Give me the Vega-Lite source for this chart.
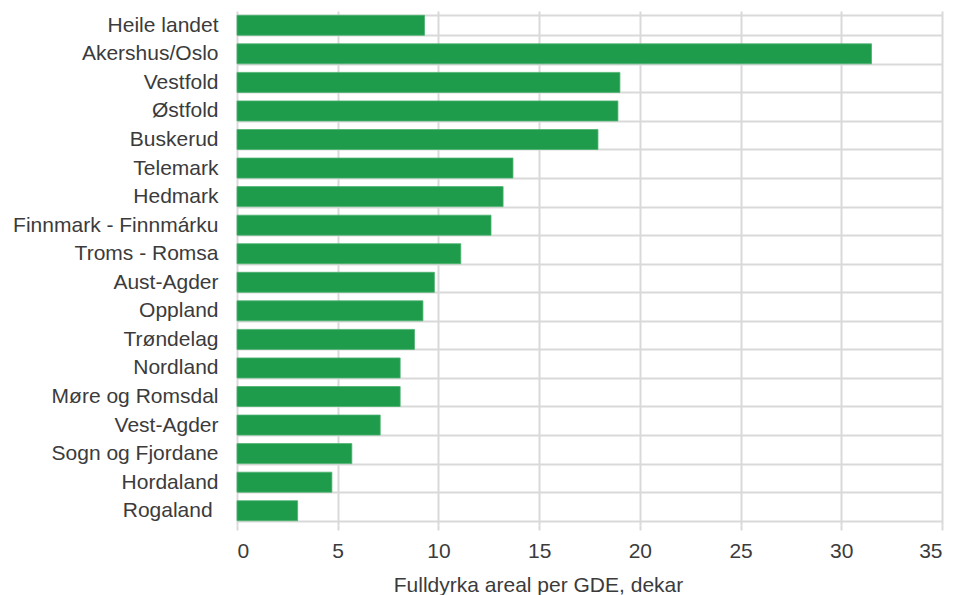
{
  "$schema": "https://vega.github.io/schema/vega-lite/v6.json",
  "width": 705,
  "height": 514,
  "autosize": {"type": "none"},
  "padding": {"left": 237, "top": 11, "right": 15, "bottom": 70},
  "background": "white",
  "config": {
    "view": {"stroke": null},
    "font": "Liberation Sans"
  },
  "data": {
    "values": [
      {"fylke": "Heile landet", "areal": 9.31},
      {"fylke": "Akershus/Oslo", "areal": 31.5},
      {"fylke": "Vestfold", "areal": 19.01},
      {"fylke": "Østfold", "areal": 18.91},
      {"fylke": "Buskerud", "areal": 17.92},
      {"fylke": "Telemark", "areal": 13.7},
      {"fylke": "Hedmark", "areal": 13.21},
      {"fylke": "Finnmark - Finnmárku", "areal": 12.61},
      {"fylke": "Troms - Romsa", "areal": 11.11},
      {"fylke": "Aust-Agder", "areal": 9.8},
      {"fylke": "Oppland", "areal": 9.23},
      {"fylke": "Trøndelag", "areal": 8.81},
      {"fylke": "Nordland", "areal": 8.1},
      {"fylke": "Møre og Romsdal", "areal": 8.1},
      {"fylke": "Vest-Agder", "areal": 7.11},
      {"fylke": "Sogn og Fjordane", "areal": 5.7},
      {"fylke": "Hordaland", "areal": 4.71},
      {"fylke": "Rogaland\u00a0\u200b", "areal": 3.01}
    ]
  },
  "mark": {"type": "bar", "color": "#1e9c4b", "stroke": "#4cb170", "strokeWidth": 0.8},
  "encoding": {
    "y": {
      "field": "fylke",
      "type": "nominal",
      "sort": null,
      "scale": {"paddingInner": 0.3, "paddingOuter": 0.15},
      "axis": {
        "title": null,
        "domain": false,
        "ticks": false,
        "tickSize": 0,
        "tickBand": "extent",
        "grid": true,
        "gridColor": "#d9d9d9",
        "gridWidth": 2,
        "labelFontSize": 21,
        "labelColor": "#3b3b3b",
        "labelPadding": 19,
        "labelLimit": 400,
        "labelFont": "Liberation Sans"
      }
    },
    "x": {
      "field": "areal",
      "type": "quantitative",
      "scale": {"domain": [0, 35], "nice": false},
      "axis": {
        "title": "Fulldyrka areal per GDE, dekar",
        "values": [0, 5, 10, 15, 20, 25, 30, 35],
        "domain": false,
        "grid": true,
        "gridColor": "#d9d9d9",
        "gridWidth": 2,
        "ticks": true,
        "tickSize": 5,
        "tickColor": "#d9d9d9",
        "tickWidth": 2,
        "labelFontSize": 21,
        "labelColor": "#3b3b3b",
        "labelBaseline": "alphabetic",
        "labelPadding": 27,
        "labelFont": "Liberation Sans",
        "titleFont": "Liberation Sans",
        "titleFontSize": 21,
        "titleFontWeight": "normal",
        "titleColor": "#3b3b3b",
        "titleX": 301,
        "titleY": 66,
        "titleAlign": "center",
        "titleBaseline": "alphabetic"
      }
    }
  }
}
